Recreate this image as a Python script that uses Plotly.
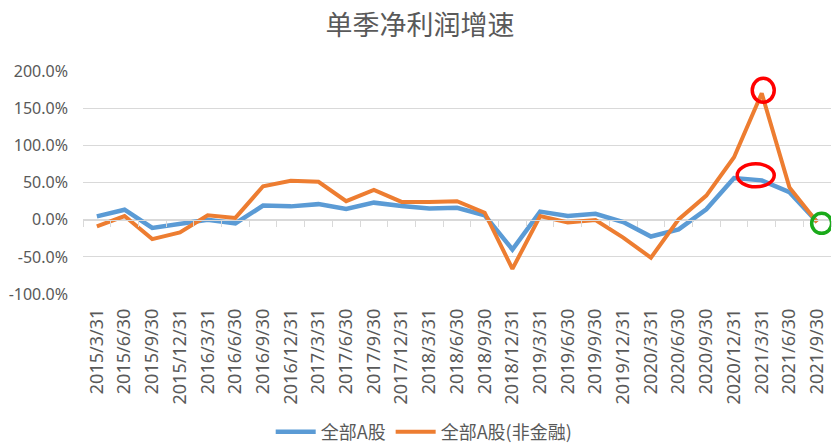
import plotly.graph_objects as go

dates = ["2015/3/31", "2015/6/30", "2015/9/30", "2015/12/31",
         "2016/3/31", "2016/6/30", "2016/9/30", "2016/12/31",
         "2017/3/31", "2017/6/30", "2017/9/30", "2017/12/31",
         "2018/3/31", "2018/6/30", "2018/9/30", "2018/12/31",
         "2019/3/31", "2019/6/30", "2019/9/30", "2019/12/31",
         "2020/3/31", "2020/6/30", "2020/9/30", "2020/12/31",
         "2021/3/31", "2021/6/30", "2021/9/30"]

all_a = [4.5, 13.5, -11, -5, 0, -5, 19, 18, 21, 14.5, 23, 18.5,
         15, 16, 6, -40, 11, 5, 8, -3, -22.5, -13, 14, 56,
         53, 37, -3]
non_fin = [-9, 5, -26, -17, 6, 2.5, 45, 52.5, 51, 25, 40, 24,
           24, 25, 9.5, -66, 5, -3.5, -0.5, -24, -51, 0.5, 32.5, 84,
           170, 43.5, -3.5]

tick_vals = [-100, -50, 0, 50, 100, 150, 200]
tick_text = ["%.1f%%" % v for v in tick_vals]

BLUE = "#5B9BD5"
ORANGE = "#ED7D31"
GRID = "#D9D9D9"
TXT = "#595959"

fig = go.Figure()
fig.add_trace(go.Scatter(x=dates, y=all_a, mode="lines", name="全部A股",
                         line=dict(color=BLUE, width=4.5)))
fig.add_trace(go.Scatter(x=dates, y=non_fin, mode="lines", name="全部A股(非金融)",
                         line=dict(color=ORANGE, width=4)))
# helper trace so the zero-line axis knows the categories
fig.add_trace(go.Scatter(x=dates, y=all_a, mode="lines", xaxis="x2",
                         line=dict(width=0, color="rgba(0,0,0,0)"),
                         showlegend=False, hoverinfo="skip"))

n = len(dates)
fig.update_layout(
    width=840, height=445,
    margin=dict(l=79, r=9, t=71, b=147),
    paper_bgcolor="white", plot_bgcolor="white",
    title=dict(text="单季净利润增速", x=0.5, xref="container", xanchor="center",
               y=1 - 26 / 445, yref="container", yanchor="middle",
               font=dict(family="Noto Sans CJK SC", size=27, color=TXT)),
    xaxis=dict(type="category", categoryorder="array", categoryarray=dates,
               range=[-0.5, n - 0.5], showgrid=False, showline=False,
               zeroline=False, ticks="", tickangle=-90, ticklabelstandoff=10,
               tickfont=dict(family="Noto Sans", size=18, color=TXT)),
    xaxis2=dict(type="category", categoryorder="array", categoryarray=dates,
                range=[-0.5, n - 0.5], overlaying="x", anchor="free",
                position=1 / 3, side="bottom", showgrid=False, showline=True,
                linecolor=GRID, linewidth=1, ticks="outside", tickson="boundaries",
                ticklen=6, tickcolor=GRID, tickwidth=1, showticklabels=False),
    yaxis=dict(range=[-100, 200], tickvals=tick_vals, ticktext=tick_text,
               showgrid=True, gridcolor=GRID, gridwidth=1, zeroline=False,
               showline=False, ticks="", ticklabelstandoff=14,
               tickfont=dict(family="Noto Sans", size=16, color=TXT)),
    legend=dict(orientation="h", xref="container", yref="container",
                x=0.505, xanchor="center", y=1 - 432 / 445, yanchor="middle",
                font=dict(family="Noto Sans CJK SC", size=18, color=TXT),
                itemwidth=40),
    showlegend=True,
)

# annotation ellipses
fig.add_shape(type="circle", xref="x", yref="y", xsizemode="pixel", ysizemode="pixel",
              xanchor=24, yanchor=non_fin[24], x0=-9.5, x1=12.5, y0=-9, y1=15,
              line=dict(color="#FF0000", width=3.5))
fig.add_shape(type="circle", xref="x", yref="y", xsizemode="pixel", ysizemode="pixel",
              xanchor=24, yanchor=all_a[24], x0=-24.5, x1=12.5, y0=-6.5, y1=16.5,
              line=dict(color="#FF0000", width=3.5))
fig.add_shape(type="circle", xref="x", yref="y", xsizemode="pixel", ysizemode="pixel",
              xanchor=26, yanchor=non_fin[26], x0=-5.5, x1=14.5, y0=-11, y1=9,
              line=dict(color="#1AAA1A", width=3.5))

fig.write_html("out.html")
